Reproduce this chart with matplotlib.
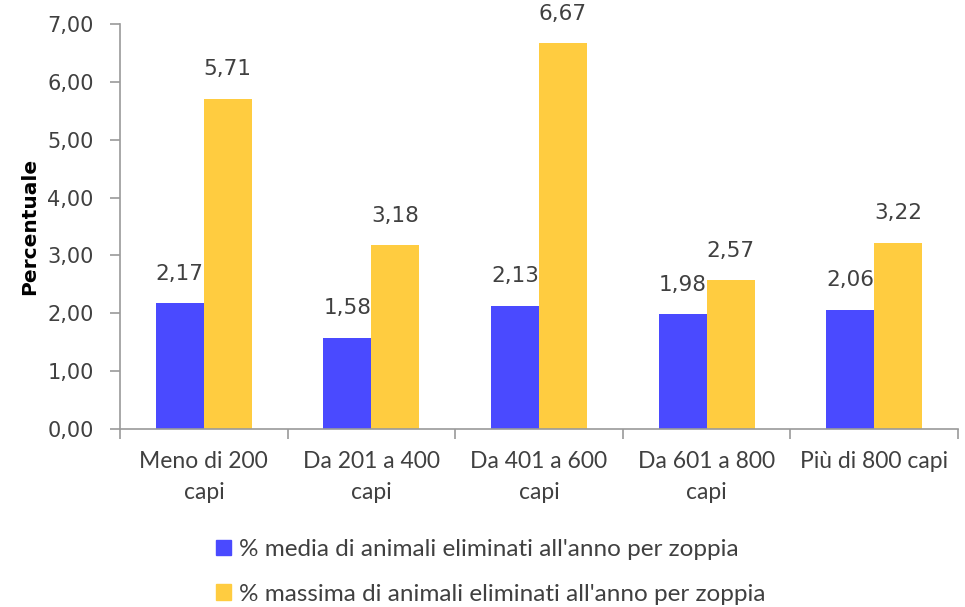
import matplotlib
matplotlib.use("Agg")
import matplotlib.pyplot as plt
import numpy as np
from matplotlib.patches import Patch

categories = ["Meno di 200\ncapi", "Da 201 a 400\ncapi", "Da 401 a 600\ncapi",
              "Da 601 a 800\ncapi", "Più di 800 capi"]
media = [2.17, 1.58, 2.13, 1.98, 2.06]
massima = [5.71, 3.18, 6.67, 2.57, 3.22]
series_names = ["% media di animali eliminati all'anno per zoppia",
                "% massima di animali eliminati all'anno per zoppia"]
yticks = [0, 1, 2, 3, 4, 5, 6, 7]

blue = "#4a4aff"
yellow = "#ffcc40"
axis_gray = "#9a9a9a"
text_gray = "#404040"

fig = plt.figure(figsize=(9.65, 6.07), dpi=100)
ax = fig.add_axes([0.1244, 0.2933, 0.8683, 0.6672])

x = np.arange(len(categories))
w = 0.286
b1 = ax.bar(x - w / 2, media, w, color=blue)
b2 = ax.bar(x + w / 2, massima, w, color=yellow)

fmt = lambda v: f"{v:.2f}".replace(".", ",")
for bars, vals in ((b1, media), (b2, massima)):
    for r, v in zip(bars, vals):
        ax.annotate(fmt(v), (r.get_x() + r.get_width() / 2, v),
                    xytext=(0, 14), textcoords="offset points",
                    ha="center", va="bottom", fontsize=15.5,
                    color=text_gray, family="DejaVu Sans")

ax.set_xlim(-0.5, len(categories) - 0.5)
ax.set_ylim(0, 7)
ax.set_yticks(yticks)
ax.set_yticklabels([fmt(v) for v in yticks], fontsize=15, color=text_gray,
                   family="DejaVu Sans")
ax.set_xticks(x)
ax.set_xticklabels(categories, fontsize=16.5, color=text_gray, family="Lato",
                   linespacing=1.6)
ax.tick_params(axis="x", length=0, pad=16)
ax.set_xticks(np.arange(len(categories) + 1) - 0.5, minor=True)
ax.tick_params(axis="x", which="minor", length=7, color=axis_gray, width=1.2)
ax.tick_params(axis="y", length=7, color=axis_gray, width=1.2, pad=12)

for s in ("top", "right"):
    ax.spines[s].set_visible(False)
for s in ("left", "bottom"):
    ax.spines[s].set_color(axis_gray)
    ax.spines[s].set_linewidth(1.2)

ax.set_ylabel("Percentuale", fontsize=14.5, fontweight="bold", color="black",
              family="DejaVu Sans", labelpad=6)

handles = [Patch(color=blue), Patch(color=yellow)]
fig.legend(handles, series_names, loc="upper left", bbox_to_anchor=(0.219, 0.12),
           frameon=False, handlelength=0.6, handleheight=0.6,
           handletextpad=0.32, labelspacing=0.97, labelcolor=text_gray,
           borderaxespad=0, borderpad=0.2,
           prop={"family": "Lato", "size": 17.5})

fig.savefig("out.png", dpi=100)
